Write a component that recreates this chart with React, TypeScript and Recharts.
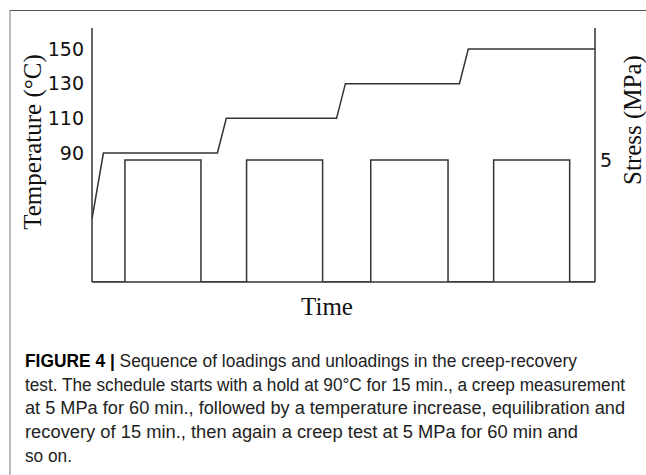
import { ComposedChart, Line, XAxis, YAxis, Label } from 'recharts';

// time in minutes (approx. read from the schematic)
const tempTimes = [0, 9, 99, 106, 193, 200, 290, 297, 397];
const tempValues = [52, 90, 90, 110, 110, 130, 130, 150, 150];

const stressTimes = [0, 26, 86, 122, 182, 220, 281, 317, 377, 397];
const stressValues = [0, 5, 0, 5, 0, 5, 0, 5, 0, 0];

const tempTicks = [90, 110, 130, 150];
const stressTicks = [5];

const captionLines = [
    'Sequence of loadings and unloadings in the creep-recovery',
    'test. The schedule starts with a hold at 90°C for 15 min., a creep measurement',
    'at 5 MPa for 60 min., followed by a temperature increase, equilibration and',
    'recovery of 15 min., then again a creep test at 5 MPa for 60 min and',
    'so on.',
];
const captionWidths = [552, 600, 600, 553, 47];

const tempData = tempTimes.map((t, i) => ({ t, temp: tempValues[i] }));
const stressData = stressTimes.map((t, i) => ({ t, stress: stressValues[i] }));

const INK = '#333';
const SERIF = '"Liberation Serif", "Times New Roman", serif';
const TICK_FONT = '"DejaVu Sans", Verdana, sans-serif';
const CAPTION_FONT = '"Liberation Sans", Arial, sans-serif';

function rotatedLabel(text: string, x: number, y: number) {
    return () => (
        <text
            x={x}
            y={y}
            transform={`rotate(-90 ${x} ${y})`}
            textAnchor="middle"
            dominantBaseline="central"
            fontFamily={SERIF}
            fontSize={25}
            fill="#111"
        >
            {text}
        </text>
    );
}

export default function App() {
    return (
        <div
            style={{
                position: 'absolute',
                left: 0,
                top: 0,
                width: 646,
                height: 475,
                background: '#fff',
                overflow: 'hidden',
            }}
        >
            <div
                style={{
                    position: 'absolute',
                    left: 9,
                    top: 10,
                    right: 0,
                    bottom: 0,
                    borderTop: '1px solid #555',
                    borderLeft: '2px solid #bbb',
                }}
            />
            <div style={{ position: 'absolute', left: 0, top: 0 }}>
                <ComposedChart
                    width={646}
                    height={330}
                    margin={{ top: 28, right: 0, bottom: 0, left: 0 }}
                >
                    <XAxis
                        type="number"
                        dataKey="t"
                        domain={[0, 397]}
                        allowDataOverflow
                        tick={false}
                        tickLine={false}
                        axisLine={{ stroke: INK, strokeWidth: 1.5 }}
                        height={48}
                    >
                        <Label
                            content={() => (
                                <text
                                    x={327}
                                    y={306}
                                    textAnchor="middle"
                                    dominantBaseline="central"
                                    fontFamily={SERIF}
                                    fontSize={25}
                                    fill="#111"
                                >
                                    Time
                                </text>
                            )}
                        />
                    </XAxis>
                    <YAxis
                        yAxisId="temp"
                        type="number"
                        domain={[15.6, 162.1]}
                        allowDataOverflow
                        ticks={tempTicks}
                        tickLine={false}
                        tickSize={6}
                        tickMargin={2}
                        tick={{ fill: '#111', fontSize: 19, fontFamily: TICK_FONT }}
                        axisLine={{ stroke: INK, strokeWidth: 1.5 }}
                        width={92}
                    >
                        <Label content={rotatedLabel('Temperature (°C)', 32, 142)} />
                    </YAxis>
                    <YAxis
                        yAxisId="stress"
                        orientation="right"
                        type="number"
                        domain={[0, 10.4]}
                        allowDataOverflow
                        ticks={stressTicks}
                        tickLine={false}
                        tickSize={3}
                        tickMargin={2}
                        tick={{ fill: '#111', fontSize: 19, fontFamily: TICK_FONT }}
                        axisLine={{ stroke: INK, strokeWidth: 1.5 }}
                        width={51}
                    >
                        <Label content={rotatedLabel('Stress (MPa)', 632, 120)} />
                    </YAxis>
                    <Line
                        yAxisId="temp"
                        data={tempData}
                        dataKey="temp"
                        type="linear"
                        stroke={INK}
                        strokeWidth={1.5}
                        dot={false}
                        activeDot={false}
                        isAnimationActive={false}
                    />
                    <Line
                        yAxisId="stress"
                        data={stressData}
                        dataKey="stress"
                        type="stepAfter"
                        stroke={INK}
                        strokeWidth={1.5}
                        dot={false}
                        activeDot={false}
                        isAnimationActive={false}
                    />
                </ComposedChart>
            </div>
            <svg
                width={646}
                height={140}
                style={{ position: 'absolute', left: 0, top: 335 }}
            >
                {captionLines.map((line, i) => (
                    <text
                        key={i}
                        x={25}
                        y={32 + i * 23.7}
                        fontFamily={CAPTION_FONT}
                        fontSize={17.5}
                        fill="#222"
                        textLength={captionWidths[i]}
                        lengthAdjust="spacingAndGlyphs"
                    >
                        {i === 0 && (
                            <tspan fontWeight="bold" fill="#000">
                                FIGURE 4 |{' '}
                            </tspan>
                        )}
                        {line}
                    </text>
                ))}
            </svg>
        </div>
    );
}
